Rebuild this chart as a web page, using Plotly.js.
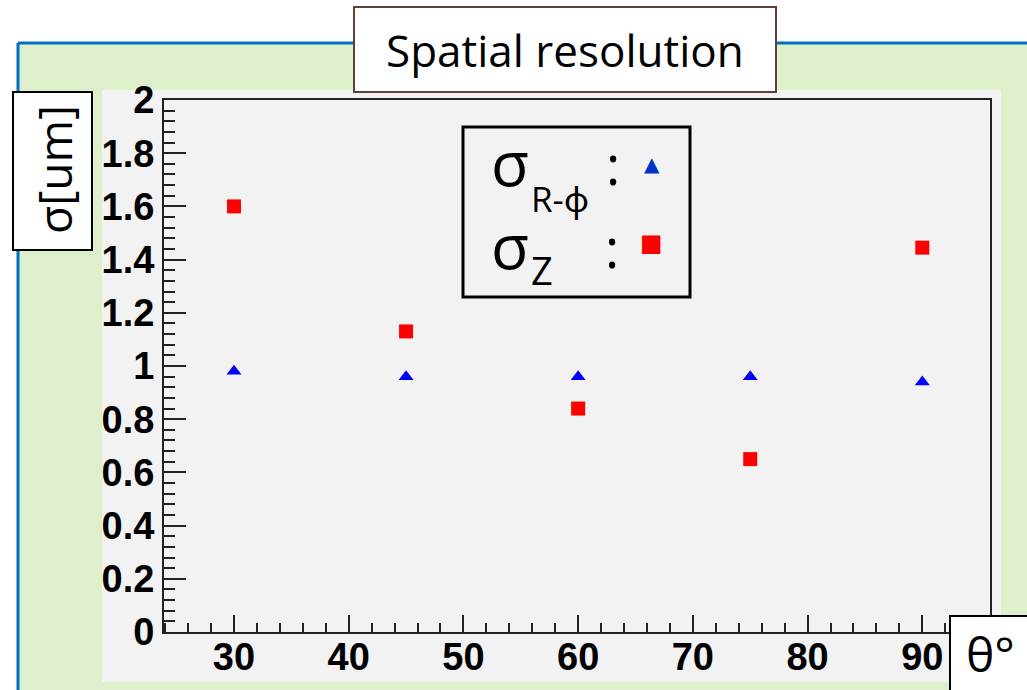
<!DOCTYPE html>
<html>
<head>
<meta charset="utf-8">
<script src="https://cdn.plot.ly/plotly-3.0.1.min.js"></script>
<style>html,body{margin:0;padding:0;background:#fff;}#chart{width:1027px;height:690px;}</style>
</head>
<body>
<div id="chart"></div>
<script>
// Data
const angles = [30, 45, 60, 75, 90];
const sigmaRPhi = [0.98, 0.96, 0.96, 0.96, 0.94];
const sigmaZ = [1.60, 1.13, 0.84, 0.65, 1.445];
const titleText = "Spatial resolution";
const yTitleText = "σ[um]";
const xTitleText = "θ°";

// pixel -> paper helpers (plot area 164..990 x, 100..632 y)
const L = 164, R = 990, T = 100, B = 632;
const px = v => (v - L) / (R - L);
const py = v => (B - v) / (B - T);
function rect(x0, y0, x1, y1, fill, lineColor, lineWidth, layer) {
  return {type: 'rect', xref: 'paper', yref: 'paper', x0: px(x0), x1: px(x1), y0: py(y1), y1: py(y0),
    fillcolor: fill, line: {color: lineColor || 'rgba(0,0,0,0)', width: lineWidth || 0}, layer: layer || 'below'};
}
function line(x0, y0, x1, y1, color, width, layer) {
  return {type: 'line', xref: 'paper', yref: 'paper', x0: px(x0), x1: px(x1), y0: py(y0), y1: py(y1),
    line: {color: color, width: width}, layer: layer || 'below'};
}
function note(x, y, text, size, opts) {
  return Object.assign({xref: 'paper', yref: 'paper', x: px(x), y: py(y), text: text, showarrow: false,
    xanchor: 'center', yanchor: 'middle', font: {family: '"Open Sans", "Noto Sans", sans-serif', size: size, color: '#000'}}, opts || {});
}

const traces = [
  {x: angles, y: sigmaRPhi, type: 'scatter', mode: 'markers', name: 'R-phi',
   marker: {symbol: 'triangle-up', size: 13, color: '#0000ff', line: {width: 0}}, cliponaxis: false},
  {x: angles, y: sigmaZ, type: 'scatter', mode: 'markers', name: 'Z',
   marker: {symbol: 'square', size: 14, color: '#ff0000', line: {width: 0}}, cliponaxis: false}
];

const green = '#ddefcb';
const gray = '#f2f2f2';
const shapes = [
  rect(18, 43, 1040, 700, green),
  line(18, 43, 1040, 43, '#0070c0', 3),
  line(18, 43, 18, 700, '#0070c0', 3),
  rect(102, 90, 1001, 682, gray),
  // clip tick labels at the left of the canvas
  rect(20, 88, 102, 684, green, null, 0, 'above'),
  // title box
  rect(354, 7, 776, 92, '#ffffff', '#603f35', 2, 'above'),
  // y title box
  rect(13, 92, 92, 250, '#ffffff', '#000000', 2, 'above'),
  // x title box
  rect(950, 616, 1035, 700, '#ffffff', '#000000', 2, 'above'),
  // legend box
  rect(463, 127, 690, 297, gray, '#000000', 3, 'above')
];

const annotations = [
  note(565, 50, titleText, 44),
  note(54, 170, yTitleText, 46, {textangle: -90}),
  note(990, 653, xTitleText, 48),
  note(510, 162, 'σ', 62),
  note(529, 198, 'R-ϕ', 35, {xanchor: 'left'}),
  note(510, 245, 'σ', 62),
  note(529, 270, 'Z', 38, {xanchor: 'left'}),
  note(613, 164, ':', 54),
  note(612, 247, ':', 54),
  note(652, 164, '▲', 20, {font: {family: 'DejaVu Sans', size: 20, color: '#0033cc'}}),
  note(651, 243, '■', 24, {font: {family: 'DejaVu Sans', size: 24, color: '#ff0000'}})
];

const tickFont = {family: '"Liberation Sans", Arial, sans-serif', size: 38, color: '#000', weight: 'bold'};
const layout = {
  width: 1027, height: 690,
  margin: {l: L, r: 1027 - R, t: T, b: 690 - B, pad: 0},
  paper_bgcolor: '#ffffff',
  plot_bgcolor: 'rgba(0,0,0,0)',
  showlegend: false,
  xaxis: {
    range: [23.9, 95.9], dtick: 10, tick0: 0, ticks: 'inside', ticklen: 17, tickwidth: 2, tickcolor: '#222',
    showline: true, linecolor: '#222', linewidth: 2, mirror: true, showgrid: false, zeroline: false,
    tickfont: tickFont, ticklabelstandoff: -10,
    minor: {dtick: 2, ticks: 'inside', ticklen: 9, tickwidth: 2, tickcolor: '#222', showgrid: false}
  },
  yaxis: {
    range: [0, 2], dtick: 0.2, tick0: 0, ticks: 'inside', ticklen: 22, tickwidth: 2, tickcolor: '#222',
    showline: true, linecolor: '#222', linewidth: 2, mirror: true, showgrid: false, zeroline: false,
    tickfont: tickFont, ticklabelstandoff: 0,
    minor: {dtick: 0.04, ticks: 'inside', ticklen: 11, tickwidth: 2, tickcolor: '#222', showgrid: false}
  },
  shapes: shapes,
  annotations: annotations
};

Plotly.newPlot('chart', traces, layout, {displayModeBar: false, staticPlot: true});
</script>
</body>
</html>
